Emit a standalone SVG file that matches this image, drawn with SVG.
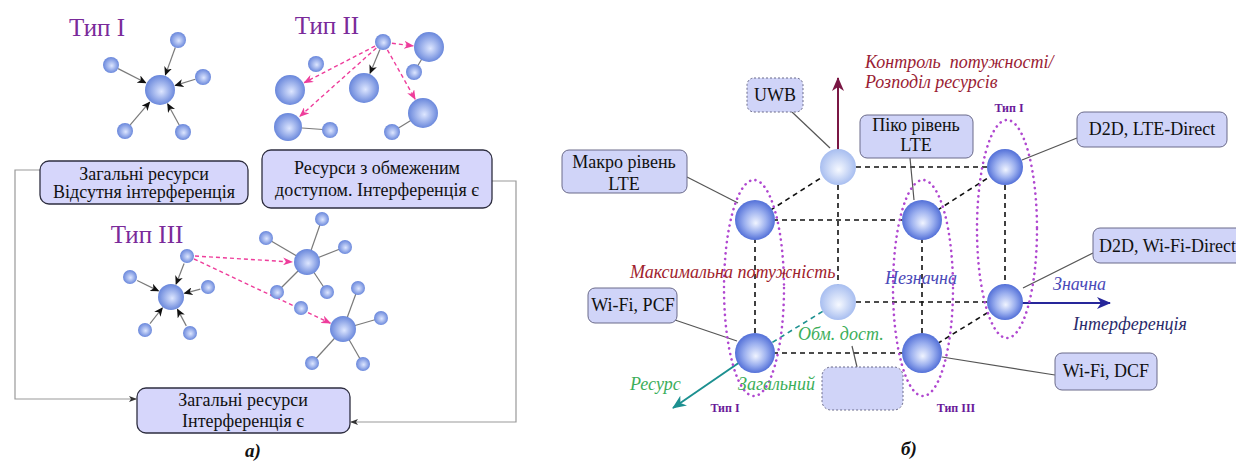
<svg xmlns="http://www.w3.org/2000/svg" width="1236" height="466" viewBox="0 0 1236 466" font-family="Liberation Serif">
<defs>
<radialGradient id="gS" cx="50%" cy="50%" r="55%" fx="55%" fy="55%"><stop offset="0" stop-color="#dde6ff"/><stop offset="1" stop-color="#5e7ed8"/></radialGradient>
<radialGradient id="gN" cx="50%" cy="50%" r="50%" fx="52%" fy="58%"><stop offset="0" stop-color="#f0f4ff"/><stop offset="0.55" stop-color="#9cb0ef"/><stop offset="1" stop-color="#5370d8"/></radialGradient>
<radialGradient id="gL" cx="50%" cy="50%" r="50%" fx="52%" fy="58%"><stop offset="0" stop-color="#f6f9ff"/><stop offset="1" stop-color="#a8bef0"/></radialGradient>
<marker id="ak" markerWidth="9" markerHeight="8" refX="8" refY="4" orient="auto" markerUnits="userSpaceOnUse"><path d="M0,0 L9,4 L0,8 L2.5,4 z" fill="#111"/></marker>
<marker id="ap" markerWidth="10" markerHeight="8" refX="9" refY="4" orient="auto" markerUnits="userSpaceOnUse"><path d="M0,0 L10,4 L0,8 L3,4 z" fill="#ee3d9b"/></marker>
<marker id="ag" markerWidth="8" markerHeight="6" refX="7" refY="3" orient="auto" markerUnits="userSpaceOnUse"><path d="M0,0 L8,3 L0,6 L2,3 z" fill="#333"/></marker>
<marker id="am" markerWidth="14" markerHeight="12" refX="13" refY="6" orient="auto" markerUnits="userSpaceOnUse"><path d="M0,0 L14,6 L0,12 L4,6 z" fill="#7a1744"/></marker>
<marker id="ab" markerWidth="14" markerHeight="12" refX="13" refY="6" orient="auto" markerUnits="userSpaceOnUse"><path d="M0,0 L14,6 L0,12 L4,6 z" fill="#26269a"/></marker>
<marker id="at" markerWidth="14" markerHeight="12" refX="13" refY="6" orient="auto" markerUnits="userSpaceOnUse"><path d="M0,0 L14,6 L0,12 L4,6 z" fill="#1c9090"/></marker>
</defs>
<style>
text{font-family:'Liberation Serif',serif}
.box{fill:#d6d6fb;stroke:#2e2e40;stroke-width:1.3}
.rbox{fill:#d0d4f8;stroke:#6a6a8a;stroke-width:1}
.dot{stroke-dasharray:2 2}
.bt{font-size:18px;fill:#111;text-anchor:middle}
.ttl{font-size:25px;fill:#7a2a9a;text-anchor:middle}
.ax{font-style:italic;font-size:18px}
.ln{stroke:#7a7a7a;stroke-width:1.2;fill:none}
.cn{stroke:#555;stroke-width:1.2;fill:none}
.br{stroke:#999;stroke-width:1.2;fill:none}
.pk{stroke:#ee3d9b;stroke-width:1.4;stroke-dasharray:4 3;fill:none}
.cube{stroke:#111;stroke-width:1.6;stroke-dasharray:5 4;fill:none}
.ell{fill:none;stroke:#b048d0;stroke-width:2.6;stroke-dasharray:0.1 5.5;stroke-linecap:round}
.tp{font-size:12px;font-weight:bold;fill:#6a1a9a;text-anchor:middle}
.s{fill:url(#gS)}
.n{fill:url(#gN)}
.l{fill:url(#gL)}
</style>
<rect width="1236" height="466" fill="#fff"/>

<!-- titles -->
<text class="ttl" x="97" y="36">Тип I</text>
<text class="ttl" x="327" y="34">Тип II</text>
<text class="ttl" x="147" y="243">Тип III</text>

<g id="connectors">
  <!-- Type I -->
  <line class="ln" x1="175.3" y1="47.5" x2="165.4" y2="74.9" marker-end="url(#ak)"/>
  <line class="ln" x1="118.1" y1="68.6" x2="145.7" y2="82.7" marker-end="url(#ak)"/>
  <line class="ln" x1="195.3" y1="79.3" x2="175.3" y2="85.4" marker-end="url(#ak)"/>
  <line class="ln" x1="130.2" y1="124.9" x2="149.6" y2="102.2" marker-end="url(#ak)"/>
  <line class="ln" x1="179.2" y1="125" x2="167.7" y2="104" marker-end="url(#ak)"/>
  <!-- Type II -->
  <line class="ln" x1="330" y1="130" x2="288" y2="127"/>
  <line class="ln" x1="392" y1="132" x2="423" y2="113"/>
  <line class="ln" x1="414" y1="72" x2="429" y2="47"/>
  <line class="ln" x1="379.9" y1="49.4" x2="370.1" y2="73.2" marker-end="url(#ak)"/>
  <line class="pk" x1="391.9" y1="43.2" x2="413.1" y2="45.9" marker-end="url(#ap)"/>
  <line class="pk" x1="375" y1="46.1" x2="304.2" y2="82.7" marker-end="url(#ap)"/>
  <line class="pk" x1="376.3" y1="48" x2="299.9" y2="116.3" marker-end="url(#ap)"/>
  <line class="pk" x1="387.4" y1="49.8" x2="415.1" y2="99.1" marker-end="url(#ap)"/>
  <!-- Type III cluster 1 -->
  <line class="ln" x1="184.1" y1="263.5" x2="176.1" y2="284" marker-end="url(#ak)"/>
  <line class="ln" x1="137.2" y1="280.5" x2="158.4" y2="290.9" marker-end="url(#ak)"/>
  <line class="ln" x1="200.3" y1="289.1" x2="184.5" y2="293.3" marker-end="url(#ak)"/>
  <line class="ln" x1="150" y1="323.7" x2="162.3" y2="308" marker-end="url(#ak)"/>
  <line class="ln" x1="186.3" y1="325.9" x2="177.5" y2="309.4" marker-end="url(#ak)"/>
  <!-- cluster 2 -->
  <line class="ln" x1="307" y1="262" x2="322" y2="219"/>
  <line class="ln" x1="307" y1="262" x2="266" y2="238"/>
  <line class="ln" x1="307" y1="262" x2="345" y2="247"/>
  <line class="ln" x1="307" y1="262" x2="277" y2="292"/>
  <line class="ln" x1="307" y1="262" x2="327" y2="292"/>
  <!-- cluster 3 -->
  <line class="ln" x1="343" y1="329" x2="358" y2="288"/>
  <line class="ln" x1="343" y1="329" x2="381" y2="318"/>
  <line class="ln" x1="343" y1="329" x2="312" y2="363"/>
  <line class="ln" x1="343" y1="329" x2="363" y2="364"/>
  <line class="pk" x1="195" y1="256" x2="292" y2="262" marker-end="url(#ap)"/>
  <line class="pk" x1="194" y1="259" x2="330.3" y2="323.1" marker-end="url(#ap)"/>
  <!-- brackets -->
  <polyline class="br" points="40,170 15,170 15,399 136,399" marker-end="url(#ag)"/>
  <polyline class="br" points="492,181 516,181 516,422 351,422" marker-end="url(#ag)"/>

  <!-- right panel cube -->
  <line class="cube" x1="755" y1="220" x2="922" y2="220"/>
  <line class="cube" x1="755" y1="220" x2="755" y2="353"/>
  <line class="cube" x1="755" y1="353" x2="922" y2="353"/>
  <line class="cube" x1="922" y1="220" x2="922" y2="353"/>
  <line class="cube" x1="838" y1="167" x2="1005" y2="167"/>
  <line class="cube" x1="838" y1="167" x2="838" y2="302"/>
  <line class="cube" x1="838" y1="302" x2="1005" y2="302"/>
  <line class="cube" x1="1005" y1="167" x2="1005" y2="302"/>
  <line class="cube" x1="755" y1="220" x2="838" y2="167"/>
  <line class="cube" x1="922" y1="220" x2="1005" y2="167"/>
  <line class="cube" x1="922" y1="353" x2="1005" y2="302"/>
  <line x1="838" y1="302" x2="755" y2="353" stroke="#1c9090" stroke-width="1.6" stroke-dasharray="5 4"/>
  <!-- label connectors -->
  <line class="cn" x1="792" y1="112" x2="830" y2="148"/>
  <line class="cn" x1="687" y1="177" x2="738" y2="203"/>
  <line class="cn" x1="910" y1="158" x2="914" y2="200"/>
  <line class="cn" x1="1077" y1="138" x2="1022" y2="160"/>
  <line class="cn" x1="1093" y1="253" x2="1023" y2="288"/>
  <line class="cn" x1="1055" y1="375" x2="942" y2="357"/>
  <line class="cn" x1="675" y1="320" x2="737" y2="341"/>
  <line class="cn" x1="852" y1="346" x2="857" y2="367"/>
</g>

<!-- left panel nodes -->
<g id="t1-center"><circle class="s" cx="160" cy="90" r="15"/></g>
<g id="t1-a"><circle class="s" cx="178" cy="40" r="8"/></g>
<g id="t1-b"><circle class="s" cx="111" cy="65" r="8"/></g>
<g id="t1-c"><circle class="s" cx="203" cy="77" r="8"/></g>
<g id="t1-d"><circle class="s" cx="125" cy="131" r="8"/></g>
<g id="t1-e"><circle class="s" cx="183" cy="132" r="8"/></g>

<g id="t2-src"><circle class="s" cx="383" cy="42" r="8"/></g>
<g id="t2-a"><circle class="s" cx="429" cy="47" r="15"/></g>
<g id="t2-b"><circle class="s" cx="414" cy="72" r="8"/></g>
<g id="t2-c"><circle class="s" cx="364" cy="88" r="15"/></g>
<g id="t2-d"><circle class="s" cx="316" cy="64" r="8"/></g>
<g id="t2-e"><circle class="s" cx="290" cy="90" r="15"/></g>
<g id="t2-f"><circle class="s" cx="288" cy="127" r="14"/></g>
<g id="t2-g"><circle class="s" cx="330" cy="130" r="8"/></g>
<g id="t2-h"><circle class="s" cx="423" cy="113" r="15"/></g>
<g id="t2-i"><circle class="s" cx="392" cy="132" r="8"/></g>

<g id="t3a-center"><circle class="s" cx="171" cy="297" r="13"/></g>
<g id="t3a-1"><circle class="s" cx="187" cy="256" r="7"/></g>
<g id="t3a-2"><circle class="s" cx="130" cy="277" r="7"/></g>
<g id="t3a-3"><circle class="s" cx="208" cy="287" r="7"/></g>
<g id="t3a-4"><circle class="s" cx="145" cy="330" r="7"/></g>
<g id="t3a-5"><circle class="s" cx="190" cy="333" r="7"/></g>

<g id="t3b-center"><circle class="s" cx="307" cy="262" r="13"/></g>
<g id="t3b-1"><circle class="s" cx="322" cy="219" r="7"/></g>
<g id="t3b-2"><circle class="s" cx="266" cy="238" r="7"/></g>
<g id="t3b-3"><circle class="s" cx="345" cy="247" r="7"/></g>
<g id="t3b-4"><circle class="s" cx="277" cy="292" r="7"/></g>
<g id="t3b-5"><circle class="s" cx="327" cy="292" r="7"/></g>

<g id="t3c-center"><circle class="s" cx="343" cy="329" r="13"/></g>
<g id="t3c-1"><circle class="s" cx="358" cy="288" r="7"/></g>
<g id="t3c-2"><circle class="s" cx="381" cy="318" r="7"/></g>
<g id="t3c-3"><circle class="s" cx="301" cy="308" r="7"/></g>
<g id="t3c-4"><circle class="s" cx="312" cy="363" r="7"/></g>
<g id="t3c-5"><circle class="s" cx="363" cy="364" r="7"/></g>

<!-- left panel boxes -->
<g id="box-common-noint">
  <rect class="box" x="40" y="161" width="208" height="43" rx="9"/>
  <text class="bt" x="144" y="180">Загальні ресурси</text>
  <text class="bt" x="144" y="198">Відсутня інтерференція</text>
</g>
<g id="box-restricted">
  <rect class="box" x="262" y="150" width="230" height="58" rx="9"/>
  <text class="bt" x="377" y="174">Ресурси з обмеженим</text>
  <text class="bt" x="377" y="196">доступом. Інтерференція є</text>
</g>
<g id="box-common-int">
  <rect class="box" x="137" y="388" width="213" height="45" rx="9"/>
  <text class="bt" x="243" y="406">Загальні ресурси</text>
  <text class="bt" x="243" y="427">Інтерференція є</text>
</g>
<text x="253" y="457" font-size="19" font-weight="bold" font-style="italic" text-anchor="middle" fill="#111">а)</text>

<!-- right panel axes -->
<line x1="838" y1="150" x2="838" y2="78" stroke="#7a1744" stroke-width="2" marker-end="url(#am)"/>
<line x1="1022" y1="303" x2="1110" y2="303" stroke="#26269a" stroke-width="2" marker-end="url(#ab)"/>
<line x1="740" y1="362" x2="673" y2="408" stroke="#1c9090" stroke-width="2" marker-end="url(#at)"/>

<!-- right panel nodes -->
<g id="n-back-tl"><circle class="l" cx="838" cy="167" r="18"/></g>
<g id="n-back-tr"><circle class="n" cx="1005" cy="167" r="18"/></g>
<g id="n-back-bl"><circle class="l" cx="838" cy="302" r="18"/></g>
<g id="n-back-br"><circle class="n" cx="1005" cy="302" r="18"/></g>
<g id="n-front-tl"><circle class="n" cx="755" cy="220" r="20"/></g>
<g id="n-front-tr"><circle class="n" cx="922" cy="220" r="20"/></g>
<g id="n-front-bl"><circle class="n" cx="755" cy="353" r="20"/></g>
<g id="n-front-br"><circle class="n" cx="922" cy="353" r="20"/></g>

<!-- type ellipses -->
<g id="grp-left"><ellipse class="ell" cx="754" cy="288" rx="30" ry="108"/><text class="tp" x="725" y="412">Тип I</text></g>
<g id="grp-mid"><ellipse class="ell" cx="923" cy="288" rx="30" ry="108"/><text class="tp" x="956" y="412">Тип III</text></g>
<g id="grp-right"><ellipse class="ell" cx="1007" cy="229" rx="30" ry="109"/><text class="tp" x="1009" y="112">Тип I</text></g>

<!-- right panel label boxes -->
<g id="lbl-uwb"><rect class="rbox dot" x="747" y="78" width="56" height="34" rx="7"/><text class="bt" x="775" y="101">UWB</text></g>
<g id="lbl-macro"><rect class="rbox" x="562" y="150" width="125" height="43" rx="7"/><text class="bt" x="624" y="168">Макро рівень</text><text class="bt" x="624" y="190">LTE</text></g>
<g id="lbl-pico"><rect class="rbox" x="860" y="115" width="113" height="43" rx="7"/><text class="bt" x="916" y="131">Піко рівень</text><text class="bt" x="916" y="151">LTE</text></g>
<g id="lbl-lte-direct"><rect class="rbox" x="1077" y="112" width="150" height="35" rx="7"/><text class="bt" x="1152" y="135">D2D, LTE-Direct</text></g>
<g id="lbl-wifi-direct"><rect class="rbox" x="1093" y="228" width="160" height="35" rx="7"/><text x="1099" y="252" font-size="18" fill="#111">D2D, Wi-Fi-Direct</text></g>
<g id="lbl-dcf"><rect class="rbox" x="1055" y="353" width="102" height="37" rx="7"/><text class="bt" x="1106" y="377">Wi-Fi, DCF</text></g>
<g id="lbl-pcf"><rect class="rbox" x="588" y="288" width="89" height="35" rx="7"/><text class="bt" x="633" y="311">Wi-Fi, PCF</text></g>
<g id="lbl-empty"><rect class="rbox dot" x="822" y="367" width="81" height="43" rx="9"/></g>

<!-- axis labels -->
<text class="ax" x="865" y="68" font-size="19" fill="#9a1c34" xml:space="preserve">Контроль  потужності/</text>
<text class="ax" x="865" y="88" font-size="19" fill="#9a1c34">Розподіл ресурсів</text>
<text class="ax" x="630" y="278" fill="#a0222c">Максимальна потужність</text>
<text class="ax" x="885" y="284" fill="#4a4ab8">Незначна</text>
<text class="ax" x="1053" y="290" fill="#4a4ab8">Значна</text>
<text class="ax" x="1073" y="330" fill="#2a2a6a">Інтерференція</text>
<text class="ax" x="798" y="340" fill="#3cae5a">Обм. дост.</text>
<text class="ax" x="738" y="390" fill="#3cae5a">Загальний</text>
<text class="ax" x="630" y="390" fill="#3cae5a">Ресурс</text>
<text x="909" y="455" font-size="19" font-weight="bold" font-style="italic" text-anchor="middle" fill="#111">б)</text>
</svg>
